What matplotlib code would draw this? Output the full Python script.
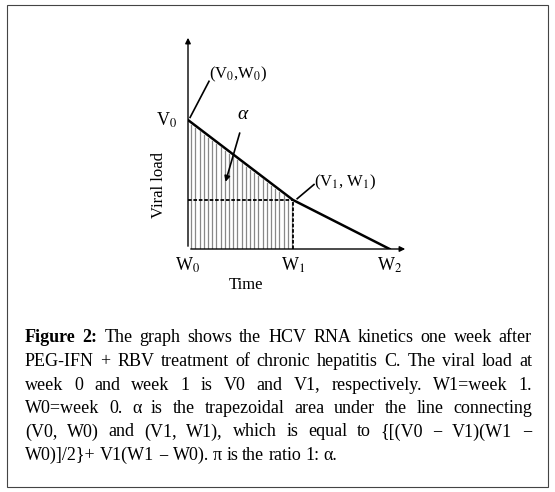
import numpy as np
import matplotlib.pyplot as plt
from matplotlib.patches import Rectangle

plt.rcParams["mathtext.fontset"] = "stix"

# key points of the curve (week, viral load)
weeks = [0, 1, 1.92]
loads = [1.0, 0.38, 0.0]
tick_labels = ["W$_0$", "W$_1$", "W$_2$"]

caption_lines = [
    ["Figure 2:", "The graph shows the HCV RNA kinetics one week after"],
    ["PEG-IFN + RBV treatment of chronic hepatitis C. The viral load at"],
    ["week 0 and week 1 is V0 and V1, respectively. W1=week 1."],
    ["W0=week 0. α is the trapezoidal area under the line connecting"],
    ["(V0, W0) and (V1, W1), which is equal to {[(V0 − V1)(W1 −"],
    ["W0)]/2}+ V1(W1 − W0). π is the ratio 1: α."],
]

W, H = 555, 492
fig = plt.figure(figsize=(W / 100, H / 100), dpi=100)
fig.patches.append(Rectangle((7 / W, 5 / H), 541 / W, 482 / H, transform=fig.transFigure,
                             fill=False, edgecolor="#444444", linewidth=0.8))

x0, y0, px = 188, 249, 105.0
ax = fig.add_axes([x0 / W, 1 - y0 / H, 220 / W, 214 / H])
ax.set_xlim(0, 220 / px)
ax.set_ylim(0, 214 / 129)
ax.axis("off")
ax.annotate("", xy=(220 / px, 0), xytext=(0, 0), arrowprops=dict(arrowstyle="-|>", lw=1, color="black", mutation_scale=8))
ax.annotate("", xy=(0, 214 / 129), xytext=(0, 0), arrowprops=dict(arrowstyle="-|>", lw=1, color="black", mutation_scale=8))

ax.plot(weeks, loads, color="black", lw=1.8)
# vertical hatching under the line between W0 and W1
for xv in np.arange(0.03, 1.0, 0.04):
    ax.plot([xv, xv], [0, np.interp(xv, weeks, loads) - 0.02], color="#888888", lw=0.9)
ax.plot([0, weeks[1]], [loads[1]] * 2, color="black", lw=1.3, ls=(0, (2, 1)))
ax.plot([weeks[1]] * 2, [0, loads[1]], color="black", lw=1.3, ls=(0, (2, 1)))

serif = "Liberation Serif"
for xv, lab in zip(weeks, tick_labels):
    ax.text(xv, -0.05, lab, ha="center", va="top", fontsize=13, family=serif)
ax.text(-0.1, loads[0], "V$_0$", ha="right", va="center", fontsize=13, family=serif)
ax.text(0.55, -0.22, "Time", ha="center", va="top", fontsize=12, family=serif)
ax.text(-0.28, 0.5, "Viral load", rotation=90, ha="center", va="center", fontsize=12, family=serif)

ax.plot([0.02, 0.2], [1.02, 1.3], color="black", lw=1.2)
ax.text(0.2, 1.35, "(V$_0$,W$_0$)", ha="left", va="center", fontsize=12, family=serif)
ax.plot([1.04, 1.2], [0.39, 0.5], color="black", lw=1.2)
ax.text(1.2, 0.52, "(V$_1$, W$_1$)", ha="left", va="center", fontsize=12, family=serif)
ax.annotate("", xy=(0.35, 0.5), xytext=(0.5, 0.92),
            arrowprops=dict(arrowstyle="-|>", lw=1.2, color="black", mutation_scale=8))
ax.text(0.52, 0.98, "α", ha="center", va="bottom", fontsize=14, style="italic", family=serif)

# justified caption
fig.canvas.draw()
r = fig.canvas.get_renderer()
left, right = 25 / W, 532 / W
for i, parts in enumerate(caption_lines):
    yy = 1 - (338 + i * 23.5) / H
    words = []
    for j, p in enumerate(parts):
        for w in p.split():
            words.append((w, j == 0 and len(parts) > 1))
    texts = [fig.text(0, yy, w, fontsize=13, family=serif, va="center",
                      weight="bold" if b else "normal") for w, b in words]
    widths = [t.get_window_extent(r).width / W for t in texts]
    last = i == len(caption_lines) - 1
    gap = 0.0075 if last else (right - left - sum(widths)) / (len(texts) - 1)
    x = left
    for t, wd in zip(texts, widths):
        t.set_x(x)
        x += wd + gap

fig.savefig("out.png", dpi=100)
